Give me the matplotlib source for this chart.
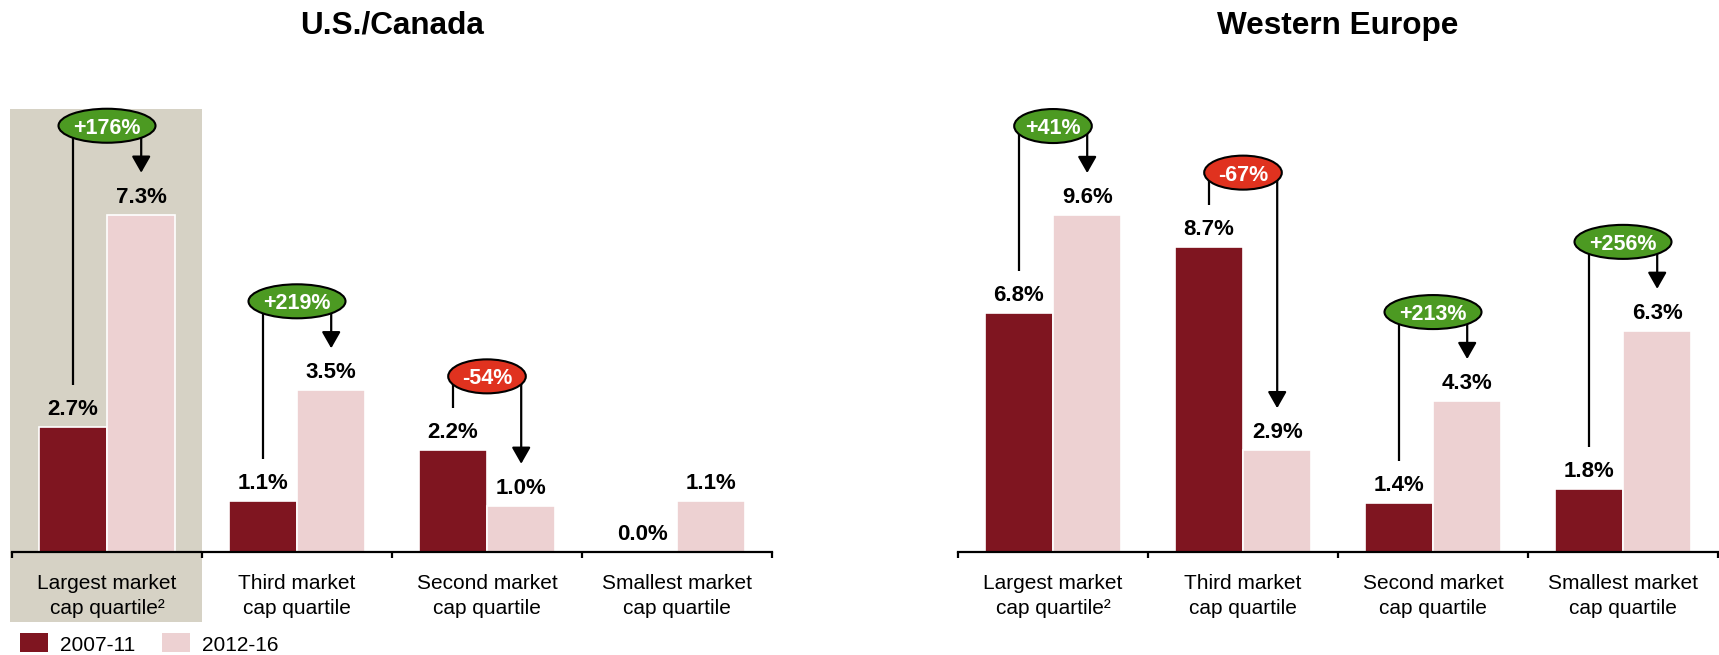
import matplotlib
matplotlib.use("Agg")
import matplotlib.pyplot as plt
from matplotlib.patches import Ellipse, Rectangle

plt.rcParams['font.family'] = ['Liberation Sans', 'DejaVu Sans']

# Share of companies by market cap quartile, two periods
quartiles = ['Largest market\ncap quartile²', 'Third market\ncap quartile',
             'Second market\ncap quartile', 'Smallest market\ncap quartile']
periods = ['2007-11', '2012-16']

us_2007 = [2.7, 1.1, 2.2, 0.0]
us_2012 = [7.3, 3.5, 1.0, 1.1]
us_change = ['+176%', '+219%', '-54%', None]

eu_2007 = [6.8, 8.7, 1.4, 1.8]
eu_2012 = [9.6, 2.9, 4.3, 6.3]
eu_change = ['+41%', '-67%', '+213%', '+256%']

DARK = '#7f1520'
LIGHT = '#edd1d2'
HILITE = '#d6d2c5'
UP = '#4c9a22'
DOWN = '#e0321f'

W, H = 1719, 655
fig = plt.figure(figsize=(W / 100, H / 100), dpi=100)

AX_H = 472          # axes height in px
PT = 0.72           # points per pixel at dpi 100


def draw_panel(ax, title, title_x, v1, v2, changes, ppu):
    ax.set_xlim(-0.5, 3.5)
    ax.set_ylim(0, AX_H / ppu)
    ax.patch.set_alpha(0)
    for s in ['left', 'top', 'right']:
        ax.spines[s].set_visible(False)
    ax.spines['bottom'].set_linewidth(1.6)
    ax.set_yticks([])
    ax.set_xticks([-0.5, 0.5, 1.5, 2.5, 3.5])
    ax.set_xticklabels([])
    ax.tick_params(axis='x', direction='out', length=4.5, width=1.6)

    x = list(range(len(v1)))
    xd = [i - 0.18 for i in x]
    xl = [i + 0.18 for i in x]
    ax.bar(xd, v1, width=0.36, color=DARK, edgecolor='white', linewidth=1.2, zorder=2)
    ax.bar(xl, v2, width=0.36, color=LIGHT, edgecolor='white', linewidth=1.2, zorder=2)

    for xs, vs in ((xd, v1), (xl, v2)):
        for xi, v in zip(xs, vs):
            ax.annotate(f'{v:.1f}%', (xi, v), xytext=(0, 12 * PT), textcoords='offset points',
                        ha='center', va='baseline', fontsize=16, fontweight='bold')

    for i, lab in enumerate(quartiles):
        ax.annotate(lab, (i, 0), xytext=(0, -22 * PT), textcoords='offset points',
                    ha='center', va='top', fontsize=15, linespacing=1.4,
                    annotation_clip=False)

    # change bubbles with connector and arrow
    for i, ch in enumerate(changes):
        if ch is None:
            continue
        up = ch.startswith('+')
        top = max(v1[i], v2[i])
        ey = top + (89 if up else 74) / ppu
        ew = 19.4 * len(ch) / 190
        eh = 34 / ppu
        ax.plot([xd[i], xd[i]], [v1[i] + 42 / ppu, ey], color='black', lw=1.6,
                solid_capstyle='butt', zorder=3)
        ax.annotate('', xy=(xl[i], v2[i] + 42 / ppu), xytext=(xl[i], ey),
                    arrowprops=dict(arrowstyle='-|>,head_length=1.0,head_width=0.57',
                                    mutation_scale=10, lw=1.6, color='black',
                                    shrinkA=0, shrinkB=0), zorder=3)
        ax.add_patch(Ellipse((i, ey), ew, eh, facecolor=UP if up else DOWN,
                             edgecolor='black', lw=1.5, zorder=4))
        ax.text(i, ey, ch, ha='center', va='center_baseline', color='white',
                fontsize=15.5, fontweight='bold', zorder=5)

    fig.text(title_x / W, 1 - 34 / H, title, ha='center', va='baseline',
             fontsize=22.7, fontweight='bold')


# highlight behind the largest quartile of the first panel
fig.patches.append(Rectangle((10 / W, 1 - 622 / H), 192 / W, 513 / H,
                             transform=fig.transFigure, facecolor=HILITE,
                             edgecolor='none', zorder=-1))

ax1 = fig.add_axes([12 / W, 103 / H, 760 / W, AX_H / H])
ax2 = fig.add_axes([958 / W, 103 / H, 760 / W, AX_H / H])

draw_panel(ax1, 'U.S./Canada', 392, us_2007, us_2012, us_change, 46.2)
draw_panel(ax2, 'Western Europe', 1338, eu_2007, eu_2012, eu_change, 35.1)

# legend
for x0, col, lab in ((20, DARK, periods[0]), (162, LIGHT, periods[1])):
    fig.patches.append(Rectangle((x0 / W, 1 - 652 / H), 28 / W, 19 / H,
                                 transform=fig.transFigure, facecolor=col,
                                 edgecolor='none'))
    fig.text((x0 + 40) / W, 1 - 651 / H, lab, ha='left', va='baseline', fontsize=15)

fig.savefig('out.png', dpi=100)
